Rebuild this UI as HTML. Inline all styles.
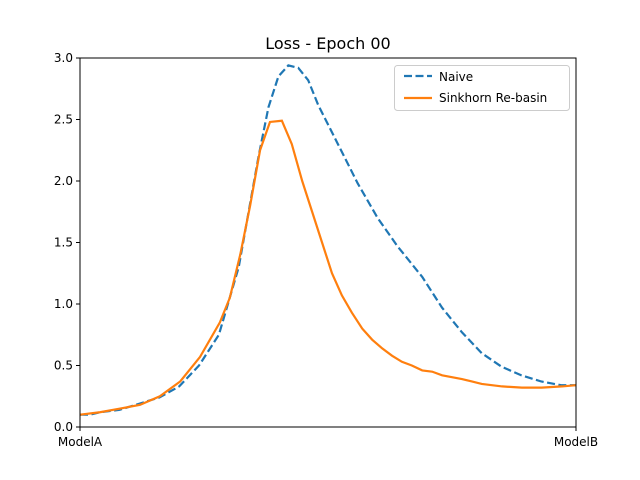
<!DOCTYPE html>
<html><head><meta charset="utf-8"><style>
body{margin:0;background:#fff}
svg{display:block;font-family:"DejaVu Sans","Liberation Sans",sans-serif}
</style></head><body>
<svg id="chart" width="640" height="480">
<rect width="640" height="480" fill="#fff"/>
<text x="328" y="49" font-size="16" text-anchor="middle">Loss - Epoch 00</text>
<g id="plot"></g>
</svg>
<script>
const naiveX=[0,0.02,0.04,0.08,0.12,0.16,0.2,0.24,0.28,0.32,0.34,0.36,0.38,0.4,0.42,0.44,0.46,0.48,0.52,0.56,0.6,0.64,0.69,0.73,0.77,0.81,0.85,0.89,0.93,0.97,1];
const naiveY=[0.1,0.1,0.12,0.14,0.19,0.24,0.33,0.5,0.75,1.3,1.75,2.2,2.6,2.85,2.94,2.92,2.82,2.62,2.3,1.98,1.7,1.47,1.22,0.97,0.77,0.6,0.49,0.42,0.37,0.34,0.34];
const sinkX=[0,0.04,0.081,0.121,0.161,0.202,0.242,0.282,0.302,0.323,0.343,0.363,0.383,0.407,0.427,0.448,0.468,0.488,0.508,0.528,0.548,0.569,0.589,0.609,0.629,0.649,0.669,0.69,0.71,0.73,0.77,0.79,0.81,0.851,0.891,0.931,0.972,1];
const sinkY=[0.1,0.12,0.15,0.18,0.25,0.37,0.57,0.85,1.05,1.4,1.8,2.25,2.48,2.49,2.3,2.0,1.75,1.5,1.25,1.07,0.93,0.8,0.71,0.64,0.58,0.53,0.5,0.46,0.45,0.42,0.39,0.37,0.35,0.33,0.32,0.32,0.33,0.34];
const yTicks=[0,0.5,1,1.5,2,2.5,3];
const yTickLabels=["0.0","0.5","1.0","1.5","2.0","2.5","3.0"];
const xTicks=[0,1];
const xTickLabels=["ModelA","ModelB"];
const L=80,R=576,T=58,B=427,ymax=3;
const sx=v=>L+v*(R-L), sy=v=>B-v/ymax*(B-T);
const NS="http://www.w3.org/2000/svg";
const g=document.getElementById('plot');
function mk(t,a){const e=document.createElementNS(NS,t);for(const k in a)e.setAttribute(k,a[k]);g.appendChild(e);return e;}
yTicks.forEach((v,i)=>{
 const t=mk('line',{x1:L-4,x2:L,y1:sy(v),y2:sy(v),stroke:'#000'});
 
 
 const l=mk('text',{x:L-7,y:sy(v)+4,'font-size':12,'text-anchor':'end'});
 l.textContent=yTickLabels[i];
 
 
});
xTicks.forEach((v,i)=>{
 const t=mk('line',{x1:sx(v),x2:sx(v),y1:B,y2:B+4,stroke:'#000'});
 
 
 const l=mk('text',{x:sx(v),y:B+19,'font-size':12,'text-anchor':'middle'});
 l.textContent=xTickLabels[i];
 
 
});
const pts=(xs,ys)=>xs.map((x,i)=>sx(x)+','+sy(ys[i])).join(' ');
const n=mk('polyline',{points:pts(naiveX,naiveY),fill:'none',stroke:'#1f77b4','stroke-width':2.2,'stroke-dasharray':'8,3.5'});


const s=mk('polyline',{points:pts(sinkX,sinkY),fill:'none',stroke:'#ff7f0e','stroke-width':2.2});


const fr=mk('rect',{x:L,y:T,width:R-L,height:B-T,fill:'none',stroke:'#000','stroke-width':1});


const lg=mk('rect',{x:394.5,y:65.5,width:175,height:45,fill:'#fff',stroke:'#ccc',rx:3});


const l1=mk('line',{x1:404,x2:432,y1:76,y2:76,stroke:'#1f77b4','stroke-width':2.2,'stroke-dasharray':'8,3.5'});


const t1=mk('text',{x:439,y:81,'font-size':12});t1.textContent='Naive';


const l2=mk('line',{x1:404,x2:432,y1:98,y2:98,stroke:'#ff7f0e','stroke-width':2.2});


const t2=mk('text',{x:439,y:102,'font-size':12});t2.textContent='Sinkhorn Re-basin';


</script>
</body></html>
